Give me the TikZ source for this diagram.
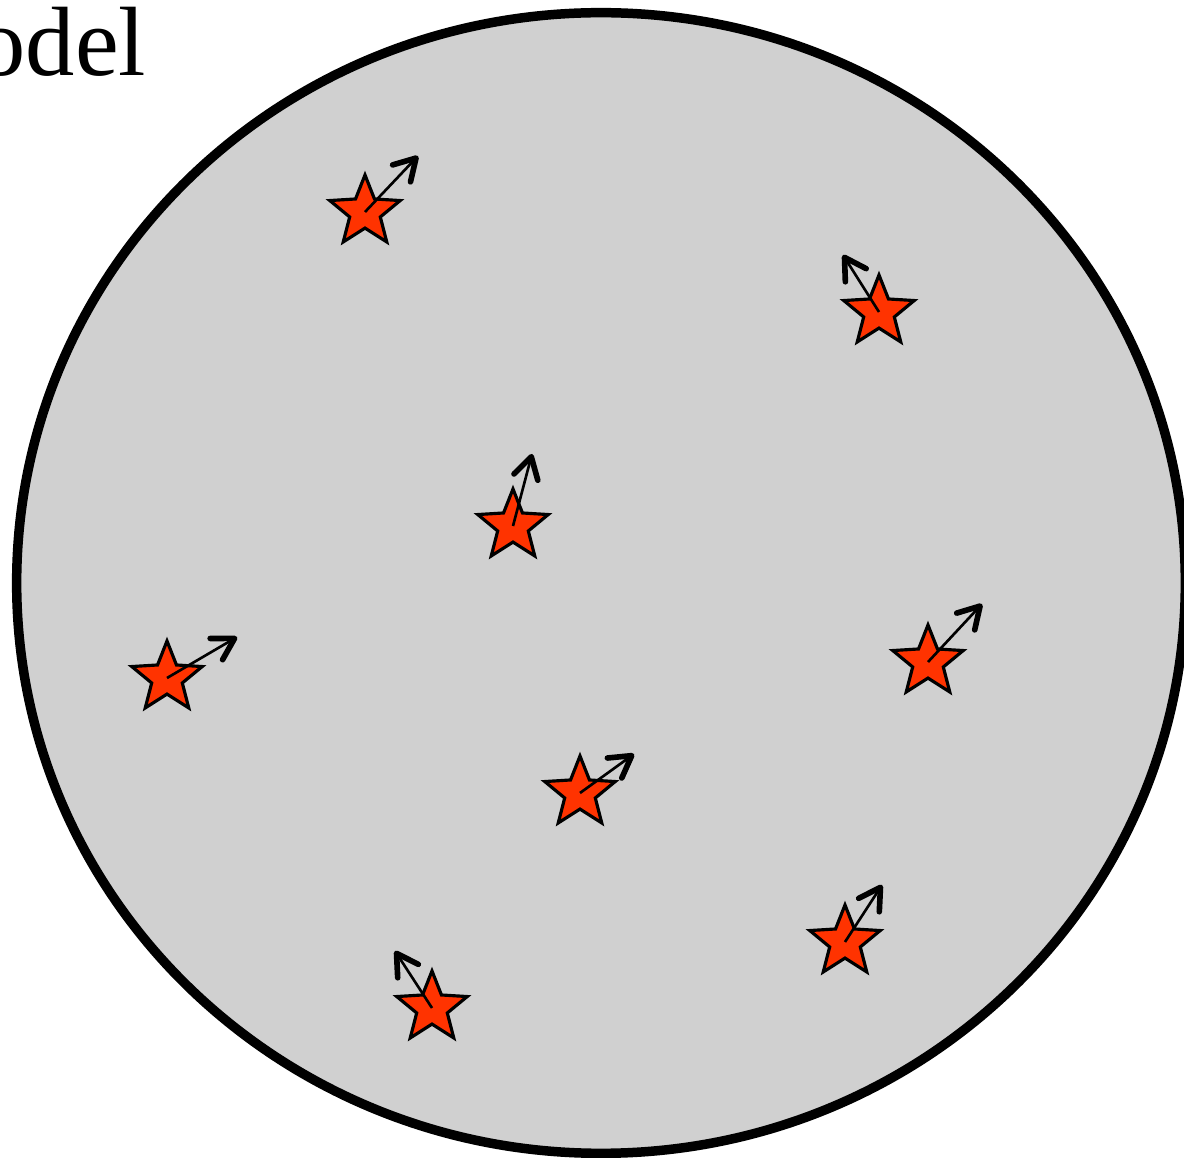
\documentclass[tikz,border=0pt]{standalone}
\usepackage{fontspec}
\setmainfont{Liberation Serif}
\usepackage{xcolor}
\definecolor{diskgray}{HTML}{D0D0D0}
\definecolor{starred}{HTML}{FF3300}
\usepackage{tikz}
\usetikzlibrary{arrows.meta, shapes.geometric}

\begin{document}
\begin{tikzpicture}[x=0.01cm, y=-0.01cm,
    starnode/.style={star, star points=5, star point ratio=2.3,
        draw=black, fill=starred, line width=0.9pt,
        minimum size=0.74cm, inner sep=0pt},
    velo/.style={line width=0.75pt,
        -{Straight Barb[length=6pt, width=7pt, line width=1.6pt, round]}}]

  \useasboundingbox (0,0) rectangle (1184,1158);

  % the disk
  \draw[fill=diskgray, line width=2.7pt] (601,583) ellipse [x radius=5.84cm, y radius=5.70cm];

  \node[anchor=base east, inner sep=0pt, font=\fontsize{28}{30}\selectfont] (title)
    at (147,76) {Model};

  % stars
  \node[starnode] (s1) at (365,212) {};
  \node[starnode] (s2) at (879,312) {};
  \node[starnode] (s3) at (513,526) {};
  \node[starnode] (s4) at (167,678) {};
  \node[starnode] (s5) at (928,662) {};
  \node[starnode] (s6) at (580,793) {};
  \node[starnode] (s7) at (845,942) {};
  \node[starnode] (s8) at (432,1008) {};

  % velocity tips
  \coordinate (v1) at (418,156);
  \coordinate (v2) at (843,255);
  \coordinate (v3) at (532,454);
  \coordinate (v4) at (237,637);
  \coordinate (v5) at (982,604);
  \coordinate (v6) at (634,754);
  \coordinate (v7) at (882,885);
  \coordinate (v8) at (395,951);

  \foreach \i in {1,...,8}
    \draw[velo] (s\i.center) -- (v\i);

\end{tikzpicture}
\end{document}
